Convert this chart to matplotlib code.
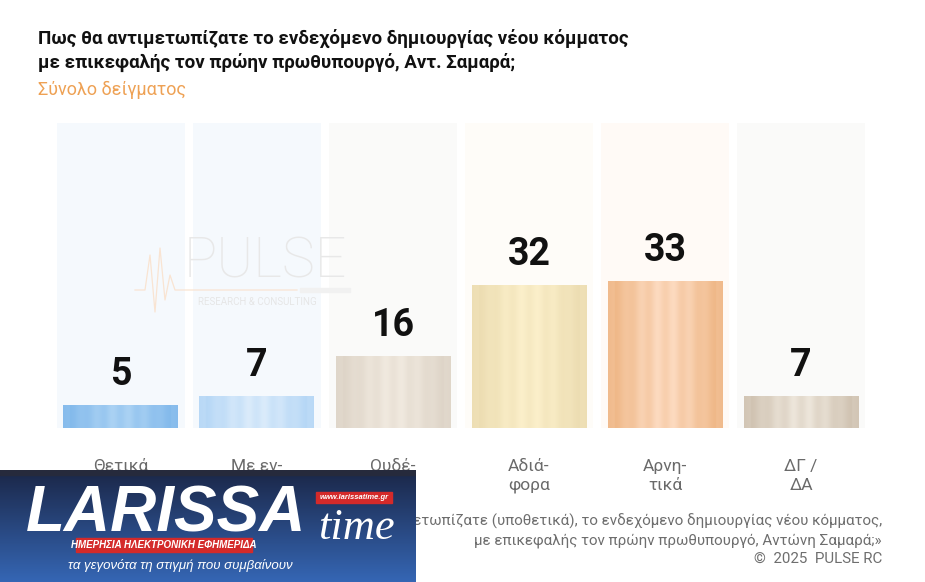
import numpy as np
import matplotlib
matplotlib.use("Agg")
import matplotlib.pyplot as plt
from matplotlib.colors import to_rgb
from matplotlib.patches import Rectangle
from matplotlib.lines import Line2D

# ---------------- data ----------------
categories = ["Θετικά", "Με εν-\nθουσιασμό", "Ουδέ-\nτερα", "Αδιά-\nφορα", "Αρνη-\nτικά", "ΔΓ /\nΔΑ"]
values = [5, 7, 16, 32, 33, 7]
bar_edge_colors = ["#7db6ea", "#b0d4f5", "#dbd1c4", "#eadaae", "#edb27f", "#cbbdab"]
bar_center_colors = ["#acd3f4", "#dcecfb", "#f1eae0", "#fcf0cb", "#fddcc2", "#eee7dc"]
bg_colors = ["#f5f9fd", "#f5f9fd", "#fafaf9", "#fefcf8", "#fffaf6", "#fafaf9"]

title = "Πως θα αντιμετωπίζατε το ενδεχόμενο δημιουργίας νέου κόμματος\nμε επικεφαλής τον πρώην πρωθυπουργό, Αντ. Σαμαρά;"
subtitle = "Σύνολο δείγματος"
footer = ("Ερώτηση: «Πώς θα αντιμετωπίζατε (υποθετικά), το ενδεχόμενο δημιουργίας νέου κόμματος,\n"
          "με επικεφαλής τον πρώην πρωθυπουργό, Αντώνη Σαμαρά;»\n"
          "©  2025  PULSE RC")

NARROW = ["Roboto", "DejaVu Sans"]
REG = ["Roboto", "DejaVu Sans"]

W, H = 925, 582
fig = plt.figure(figsize=(W / 100, H / 100), dpi=100)
fig.patch.set_facecolor("white")

ymax = 68.5
ax = fig.add_axes([57 / W, 1 - 428 / H, (865 - 57) / W, (428 - 123) / H])
ax.set_facecolor("white")
x = np.arange(len(values))
colw = 0.94
barw = 0.845

# background columns
ax.bar(x, [ymax] * len(x), width=colw, color=bg_colors, zorder=1)


def grad_row(c_edge, c_center, n=200):
    e = np.array(to_rgb(c_edge))
    c = np.array(to_rgb(c_center))
    t = np.linspace(0, 1, n)
    d = np.abs(2 * t - 1)
    w = (1 - d ** 1.6)
    w = w * (0.85 + 0.15 * np.cos(t * 14 * np.pi))
    w = np.clip(w, 0, 1)
    row = e[None, :] * (1 - w[:, None]) + c[None, :] * w[:, None]
    band = d > 0.88
    row[band] = row[band] * 0.6 + 0.4 * (e * 0.5 + c * 0.5)
    return row[None, :, :]


for xi, v, ce, cc in zip(x, values, bar_edge_colors, bar_center_colors):
    ax.imshow(grad_row(ce, cc), extent=(xi - barw / 2, xi + barw / 2, 0, v),
              aspect="auto", zorder=2, interpolation="bilinear")
    ax.annotate(str(v), xy=(xi, v), xytext=(0, 9), textcoords="offset points",
                ha="center", va="bottom", fontsize=27, fontweight="bold",
                family=NARROW, color="#111111", zorder=4)

ax.set_xlim(-0.47, 5.47)
ax.set_ylim(0, ymax)
ax.set_xticks(x)
ax.set_xticklabels(categories, family=NARROW, fontsize=12.5, color="#6a6a6a",
                   linespacing=1.35)
ax.tick_params(axis="x", length=0, pad=22)
ax.set_yticks([])
for s in ax.spines.values():
    s.set_visible(False)

# watermark
fig.text(265 / W, 1 - 262 / H, "PULSE", fontsize=40, color="#e8e8e8", ha="center",
         va="center", family=REG, fontweight="light", zorder=0.5)
fig.text(257 / W, 1 - 302 / H, "RESEARCH & CONSULTING", fontsize=7, color="#e6e6e6",
         ha="center", va="center", family=REG)
hb_x = np.array([135, 145, 150, 155, 160, 165, 170, 175, 297])
hb_y = np.array([290, 290, 255, 312, 248, 300, 275, 290, 290])
fig.add_artist(Line2D(hb_x / W, 1 - hb_y / H, color="#f9e4d2", lw=0.9,
                      transform=fig.transFigure, zorder=0.6))
fig.add_artist(Rectangle((300 / W, 1 - 292 / H), 50 / W, 4 / H, color="#f1f1f1",
                         transform=fig.transFigure, zorder=0.6))

# title and subtitle
fig.text(38 / W, 1 - 29 / H, title, fontsize=13.5, fontweight="bold", family=NARROW,
         color="#111111", va="top", ha="left", linespacing=1.3)
fig.text(38 / W, 1 - 90 / H, subtitle, fontsize=13, family=NARROW,
         color="#eea154", va="center", ha="left")

# footer
fig.text(882 / W, 1 - 514 / H, footer, fontsize=10.9, family=REG, color="#6e6e6e",
         ha="right", va="top", linespacing=1.35)

# ---------------- logo overlay ----------------
lax = fig.add_axes([0, 0, 416 / W, (582 - 470) / H])
lax.set_zorder(10)
lax.set_xlim(0, 416)
lax.set_ylim(112, 0)
lax.axis("off")
top = np.array(to_rgb("#1b2748"))
bot = np.array(to_rgb("#3566b4"))
tt = np.linspace(0, 1, 100)[:, None]
grad = top * (1 - tt) + bot * tt
lax.imshow(grad[:, None, :], extent=(0, 416, 112, 0), aspect="auto", zorder=0)
lax.add_patch(Rectangle((0, 0), 416, 5, color="#262a3c", zorder=1))
lax.text(26, 45, "LARISSA", fontsize=46, fontweight="bold", style="italic",
         color="white", family=["Liberation Sans", "DejaVu Sans"], ha="left",
         va="center", zorder=2)
lax.text(318, 58, "time", fontsize=32, style="italic", color="white",
         family=["Liberation Serif", "DejaVu Serif"], ha="left", va="center", zorder=2)
lax.add_patch(Rectangle((316, 22), 76, 11, color="#d42a2a", zorder=2))
lax.text(354, 27.5, "www.larissatime.gr", fontsize=5.5, fontweight="bold", style="italic",
         color="white", ha="center", va="center", family=["Liberation Sans"], zorder=3)
lax.add_patch(Rectangle((76, 68), 176, 14, color="#d42a2a", zorder=3))
lax.text(164, 75, "ΗΜΕΡΗΣΙΑ ΗΛΕΚΤΡΟΝΙΚΗ ΕΦΗΜΕΡΙΔΑ", fontsize=7, fontweight="bold",
         style="italic", color="white", ha="center", va="center",
         family=["Liberation Sans"], zorder=4)
lax.text(180, 96, "τα γεγονότα τη στιγμή που συμβαίνουν", fontsize=9.5, style="italic",
         color="white", ha="center", va="center", family=["Liberation Sans"], zorder=3)

fig.savefig("out.png", dpi=100, facecolor="white")
